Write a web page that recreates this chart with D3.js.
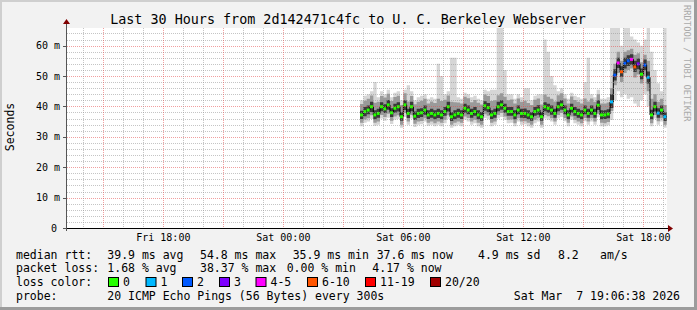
<!DOCTYPE html>
<html>
<head>
<meta charset="utf-8">
<script src="https://cdn.jsdelivr.net/npm/d3@7/dist/d3.min.js"></script>
<style>
  body { margin: 0; background: #fff; }
  text { font-family: "DejaVu Sans Mono", monospace; }
</style>
</head>
<body>
<div id="chart"></div>
<script>
// one sample every 10 minutes, first one Sat 03:50
const sampleStart = Date.UTC(2026, 2, 7, 3, 50);
const sampleStep = 10 * 60 * 1000;

// median rtt (ms)
const medianRtt = [
  37.2,38.3,38.8,39.9,37.2,37.7,39.9,39.2,40.5,37.9,
  39.4,39.9,36.6,40.5,37.7,39.9,36.8,37.7,37.9,38.8,
  37.2,37.7,37.2,37.7,37.2,38.3,39.9,36.6,37.2,37.7,
  37.2,39.4,38.8,37.7,38.3,37.2,36.6,40.2,39.6,37.2,
  37.7,39.9,40.5,39.4,38.3,38.3,37.2,38.8,37.7,37.7,
  37.2,36.6,38.3,38.8,36.6,39.9,39.4,38.8,37.7,39.9,
  40.5,38.8,37.2,39.4,38.3,37.7,37.2,38.8,37.7,38.8,
  37.7,40.4,37.2,37.2,37.5,41.5,50.3,54.3,51.4,54.2,
  55.0,55.5,53.0,54.0,50.6,53.6,49.6,37.2,39.9,37.8,
  38.8,36.6];

// smoke: fastest / slowest pings and inner percentiles (ms)
const pingMin = [
  33.5,34.6,35.0,35.9,33.6,34.0,36.0,35.3,36.3,34.2,
  35.6,35.9,33.0,36.5,34.0,36.0,33.2,34.0,34.1,35.0,
  33.6,34.0,33.5,34.0,33.5,34.5,35.9,33.0,33.5,34.0,
  33.5,35.6,35.0,34.0,34.5,33.5,33.0,36.2,35.8,33.5,
  34.0,36.0,36.5,35.6,34.5,34.6,33.5,35.0,34.0,34.1,
  33.5,33.0,34.5,35.0,33.0,36.0,35.6,35.0,34.0,36.0,
  36.5,35.1,33.5,35.6,34.5,34.0,33.5,35.1,34.0,35.0,
  34.0,36.4,33.5,33.5,33.8,35.5,42.0,45.0,43.0,44.0,
  42.5,43.0,41.0,40.0,42.0,44.0,40.0,33.5,36.0,34.0,
  35.0,33.0];
const pingP10 = [
  34.6,35.7,36.1,37.1,34.6,35.0,37.2,36.5,37.6,35.3,
  36.7,37.1,34.0,37.8,35.0,37.2,34.3,35.0,35.2,36.1,
  34.6,35.0,34.5,35.0,34.6,35.6,37.1,34.0,34.6,35.0,
  34.6,36.7,36.2,35.0,35.6,34.6,34.0,37.4,36.9,34.6,
  35.0,37.2,37.8,36.7,35.6,35.7,34.5,36.1,35.0,35.1,
  34.6,34.0,35.6,36.1,34.0,37.2,36.8,36.1,35.0,37.2,
  37.8,36.2,34.6,36.7,35.6,35.0,34.5,36.2,35.0,36.1,
  35.0,37.6,34.6,34.5,34.9,38.5,47.0,51.0,48.0,51.0,
  52.0,52.5,49.5,50.5,47.5,50.0,45.0,34.5,37.2,35.1,
  36.1,34.0];
const pingP25 = [
  35.9,36.8,37.4,38.2,35.8,36.3,38.4,37.8,38.9,36.5,
  37.9,38.3,35.3,38.8,36.2,38.4,35.5,36.2,36.5,37.3,
  35.9,36.3,35.8,36.2,35.8,36.9,38.3,35.2,35.8,36.3,
  35.9,37.9,37.4,36.3,36.9,35.8,35.3,38.6,38.1,35.9,
  36.3,38.4,38.9,37.9,36.9,36.9,35.8,37.4,36.3,36.2,
  35.8,35.3,36.9,37.3,35.3,38.4,37.9,37.3,36.3,38.4,
  38.9,37.4,35.8,37.9,36.9,36.3,35.8,37.4,36.3,37.3,
  36.3,38.8,35.8,35.9,36.1,39.5,48.5,52.6,49.8,52.5,
  53.3,53.7,51.3,52.2,48.9,51.9,47.5,35.8,38.3,36.3,
  37.3,35.2];
const pingP75 = [
  38.6,39.8,40.3,41.5,38.7,39.2,41.4,40.7,42.1,39.4,
  40.9,41.4,38.1,42.0,39.2,41.5,38.3,39.2,39.4,40.3,
  38.7,39.2,38.7,39.2,38.7,39.8,41.5,38.1,38.7,39.2,
  38.7,40.9,40.3,39.2,39.8,38.7,38.2,41.7,41.1,38.7,
  39.2,41.5,42.0,40.9,39.8,39.8,38.7,40.3,39.2,39.3,
  38.7,38.1,39.8,40.4,38.2,41.4,40.9,40.3,39.2,41.5,
  42.0,40.3,38.7,40.9,39.8,39.2,38.7,40.3,39.2,40.3,
  39.2,42.0,38.7,38.7,39.1,44.0,52.2,56.0,53.2,56.0,
  56.8,57.2,55.0,55.8,52.5,55.4,51.5,38.9,41.5,39.4,
  40.3,38.1];
const pingP90 = [
  40.8,41.9,42.5,43.6,41.2,41.5,43.4,42.9,44.2,41.8,
  43.1,43.5,40.5,44.3,41.6,43.4,40.7,41.5,41.9,42.5,
  41.0,41.6,41.1,42.5,41.8,42.2,43.6,41.5,41.4,41.3,
  41.0,43.2,42.7,41.4,42.1,41.2,40.6,43.9,43.4,41.8,
  42.0,43.7,44.3,43.2,42.0,42.3,41.0,42.6,41.5,41.9,
  41.1,40.5,42.2,42.6,40.6,43.9,43.2,42.5,41.6,43.7,
  44.3,42.6,41.0,43.3,42.1,41.5,41.0,42.6,41.6,42.6,
  41.5,44.0,41.0,41.0,41.3,46.0,54.0,58.0,55.0,58.0,
  58.5,59.0,57.0,57.5,54.5,57.0,55.0,42.5,44.0,41.5,
  42.5,40.5];
const pingMax = [
  42.0,43.5,44.0,45.0,48.0,43.0,45.0,44.0,45.5,43.0,
  44.5,45.0,42.0,45.5,47.0,45.0,42.0,43.0,43.5,44.0,
  42.5,43.0,42.5,54.0,50.0,44.0,45.0,56.0,56.0,43.0,
  42.5,44.5,44.0,43.0,43.5,42.5,42.0,45.5,45.0,45.5,
  45.5,68.0,68.0,52.0,44.0,44.0,42.5,44.0,43.0,46.0,
  46.0,42.0,43.5,44.0,44.0,62.0,58.0,50.0,47.0,45.0,
  46.0,44.0,42.5,44.5,43.5,43.0,42.5,48.0,56.0,44.0,
  43.0,45.5,42.5,42.5,43.0,68.0,68.0,68.0,60.0,68.0,
  68.0,63.0,62.0,61.0,60.0,62.0,68.0,58.0,52.0,47.6,
  45.0,68.0];

// lost pings out of 20 per sample
const lostPings = [
  0,0,0,0,0,0,0,0,0,0,
  0,0,0,0,0,0,0,0,0,0,
  0,0,0,0,0,0,0,0,0,0,
  0,0,0,0,0,0,0,0,0,0,
  0,0,0,0,0,0,0,0,0,0,
  0,0,0,0,0,0,0,0,0,0,
  0,0,0,0,0,0,0,0,0,0,
  0,0,0,0,0,1,2,4,7,2,
  2,4,6,3,0,2,1,0,0,1,
  0,1];

const lossLabels = ['0', '1', '2', '3', '4-5', '6-10', '11-19', '20/20'];
const lossColors = ['#26ff00', '#00b8ff', '#0059ff', '#7e00ff', '#ff00ff', '#ff5500', '#ff0000', '#a10000'];
const lossLimits = [1, 2, 3, 4, 6, 11, 20];
const lossBoxX = [108, 145.5, 182, 219, 255.5, 307, 365, 430];

const yTicks = [0, 10, 20, 30, 40, 50, 60];

const titleText = 'Last 30 Hours from 2d142471c4fc to U. C. Berkeley Webserver';
const rttRow = [['median rtt:', 16], ['39.9 ms avg', 107.3], ['54.8 ms max', 200], ['35.9 ms min', 292.7],
  ['37.6 ms now', 376.7], ['4.9 ms sd', 478], ['8.2', 558], ['am/s', 600]];
const lossRow = [['packet loss:', 16], ['1.68 % avg', 107.3], ['38.37 % max', 200], ['0.00 % min', 286.7], ['4.17 % now', 372.3]];
const probeRow = [['probe:', 16], ['20 ICMP Echo Pings (56 Bytes) every 300s', 107.3]];
const stampText = 'Sat Mar  7 19:06:38 2026';

let width = 697, height = 310;
let plot = { left: 67, right: 667, top: 28, bottom: 228 };

let svg = d3.select('#chart')
  .append('svg')
    .attr('width', width)
    .attr('height', height);

// frame
svg.append('rect').attr('width', width).attr('height', height).attr('fill', '#f2f2f2');
svg.append('rect').attr('x', 0).attr('y', 0).attr('width', width).attr('height', 2).attr('fill', '#cfcfcf');
svg.append('rect').attr('x', 0).attr('y', 0).attr('width', 2).attr('height', height).attr('fill', '#cfcfcf');
svg.append('rect').attr('x', 0).attr('y', height - 3).attr('width', width).attr('height', 3).attr('fill', '#9c9c9c');
svg.append('rect').attr('x', width - 3).attr('y', 0).attr('width', 3).attr('height', height).attr('fill', '#9c9c9c');

// canvas
svg.append('rect')
  .attr('x', plot.left).attr('y', plot.top)
  .attr('width', plot.right - plot.left).attr('height', plot.bottom - plot.top)
  .attr('fill', '#ffffff');

let xScale = d3.scaleUtc()
  .domain([new Date(Date.UTC(2026, 2, 6, 13, 11)), new Date(Date.UTC(2026, 2, 7, 19, 11))])
  .range([plot.left, plot.right]);

let yScale = d3.scaleLinear()
  .domain([0, 65.8])
  .range([plot.bottom, plot.top]);

svg.append('clipPath').attr('id', 'clip')
  .append('rect')
  .attr('x', plot.left).attr('y', plot.top)
  .attr('width', plot.right - plot.left).attr('height', plot.bottom - plot.top);

// samples (one extra point closes the last step)
let samples = medianRtt.map((m, i) => ({
  t: new Date(sampleStart + i * sampleStep),
  med: m, min: pingMin[i], p10: pingP10[i], p25: pingP25[i], p75: pingP75[i], p90: pingP90[i], max: pingMax[i],
  lost: lostPings[i]
}));
let last = samples[samples.length - 1];
let stepped = samples.concat([Object.assign({}, last, { t: new Date(last.t.getTime() + sampleStep) })]);

let dataG = svg.append('g').attr('clip-path', 'url(#clip)');

function band(lo, hi) {
  return d3.area()
    .x(d => xScale(d.t))
    .y0(d => yScale(d[lo]))
    .y1(d => yScale(d[hi]))
    .curve(d3.curveStepAfter);
}

dataG.append('path').datum(stepped).attr('d', band('min', 'max')).attr('fill', '#d6d6d6');
dataG.append('path').datum(stepped).attr('d', band('p10', 'p90')).attr('fill', '#9a9a9a');
dataG.append('path').datum(stepped).attr('d', band('p25', 'p75')).attr('fill', '#3a3a3a');

// grid
let gridG = svg.append('g');
let minorY = d3.range(2, 66, 2).filter(v => v % 10 !== 0);
gridG.selectAll('.hminor').data(minorY).enter().append('line')
  .attr('x1', plot.left).attr('x2', plot.right)
  .attr('y1', d => Math.round(yScale(d)) + 0.5).attr('y2', d => Math.round(yScale(d)) + 0.5)
  .attr('stroke', 'rgba(150,150,150,0.55)').attr('stroke-dasharray', '1,1');
gridG.selectAll('.hmajor').data(yTicks.slice(1)).enter().append('line')
  .attr('x1', plot.left).attr('x2', plot.right)
  .attr('y1', d => Math.round(yScale(d)) + 0.5).attr('y2', d => Math.round(yScale(d)) + 0.5)
  .attr('stroke', 'rgba(230,80,80,0.55)').attr('stroke-dasharray', '1,1');

let hours = xScale.ticks(d3.utcHour.every(1));
gridG.selectAll('.vgrid').data(hours).enter().append('line')
  .attr('x1', d => Math.round(xScale(d)) + 0.5).attr('x2', d => Math.round(xScale(d)) + 0.5)
  .attr('y1', plot.top).attr('y2', plot.bottom)
  .attr('stroke', d => d.getUTCHours() % 3 === 0 ? 'rgba(230,80,80,0.55)' : 'rgba(150,150,150,0.55)')
  .attr('stroke-dasharray', '1,1');

// median line and loss colour marks
dataG.append('path').datum(stepped)
  .attr('d', d3.line().x(d => xScale(d.t)).y(d => yScale(d.med)).curve(d3.curveStepAfter))
  .attr('fill', 'none').attr('stroke', '#000').attr('stroke-width', 1);

let lossColor = d3.scaleThreshold().domain(lossLimits).range(lossColors);
dataG.selectAll('.loss').data(samples).enter().append('rect')
  .attr('x', d => xScale(d.t))
  .attr('y', d => yScale(d.med) - 1.5)
  .attr('width', 3).attr('height', 3)
  .attr('fill', d => lossColor(d.lost));

// axes
let axisG = svg.append('g');
axisG.append('line').attr('x1', plot.left - 3).attr('x2', plot.right + 2)
  .attr('y1', plot.bottom + 0.5).attr('y2', plot.bottom + 0.5).attr('stroke', '#000');
axisG.append('line').attr('x1', plot.left - 0.5).attr('x2', plot.left - 0.5)
  .attr('y1', plot.bottom + 3).attr('y2', plot.top - 5).attr('stroke', '#555');
axisG.append('path').attr('d', `M${plot.right + 1},${plot.bottom - 3} L${plot.right + 6},${plot.bottom + 0.5} L${plot.right + 1},${plot.bottom + 4} Z`)
  .attr('fill', '#800000');
axisG.append('path').attr('d', `M${plot.left - 4},${plot.top - 4} L${plot.left - 0.5},${plot.top - 9} L${plot.left + 3},${plot.top - 4} Z`)
  .attr('fill', '#800000');

axisG.selectAll('.ytick').data(yTicks).enter().append('line')
  .attr('x1', plot.left - 4).attr('x2', plot.left)
  .attr('y1', d => Math.round(yScale(d)) + 0.5).attr('y2', d => Math.round(yScale(d)) + 0.5)
  .attr('stroke', '#555');

axisG.selectAll('.ylab').data(yTicks).enter().append('text')
  .attr('x', d => d === 0 ? 57 : 60)
  .attr('y', d => yScale(d) + 3.5)
  .attr('text-anchor', 'end')
  .attr('font-size', '10px')
  .attr('fill', '#000')
  .text(d => d === 0 ? '0' : d + ' m');

let labelHours = xScale.ticks(d3.utcHour.every(6));
let fmt = d3.utcFormat('%a %H:%M');
axisG.selectAll('.xlab').data(labelHours).enter().append('text')
  .attr('x', d => xScale(d))
  .attr('y', 241)
  .attr('text-anchor', 'middle')
  .attr('font-size', '10px')
  .text(d => fmt(d));

// titles
svg.append('text').attr('x', 348).attr('y', 23.5).attr('text-anchor', 'middle')
  .attr('font-size', '13.4px').text(titleText);

svg.append('text').attr('transform', 'translate(14,127) rotate(-90)').attr('text-anchor', 'middle')
  .attr('font-size', '11.5px').text('Seconds');

svg.append('text').attr('transform', 'translate(684,5) rotate(90)').attr('text-anchor', 'start')
  .attr('font-size', '8.8px').attr('fill', '#aaaaaa').text('RRDTOOL / TOBI OETIKER');

// legend
let legend = svg.append('g').attr('font-size', '11.5px').attr('fill', '#000');
function row(items, y) {
  legend.selectAll(null).data(items).enter().append('text')
    .attr('x', d => d[1]).attr('y', y).attr('xml:space', 'preserve').text(d => d[0]);
}
row(rttRow, 258.5);
row(lossRow, 272.2);
legend.append('text').attr('x', 16).attr('y', 286.2).text('loss color:');
lossLabels.forEach((lab, i) => {
  legend.append('rect').attr('x', lossBoxX[i] + 0.5).attr('y', 277.5).attr('width', 10).attr('height', 9)
    .attr('fill', lossColors[i]).attr('stroke', '#000');
  legend.append('text').attr('x', lossBoxX[i] + 15).attr('y', 286.2).text(lab);
});
row(probeRow, 300);
legend.append('text').attr('x', 680).attr('y', 300).attr('text-anchor', 'end')
  .attr('xml:space', 'preserve').text(stampText);
</script>
</body>
</html>
